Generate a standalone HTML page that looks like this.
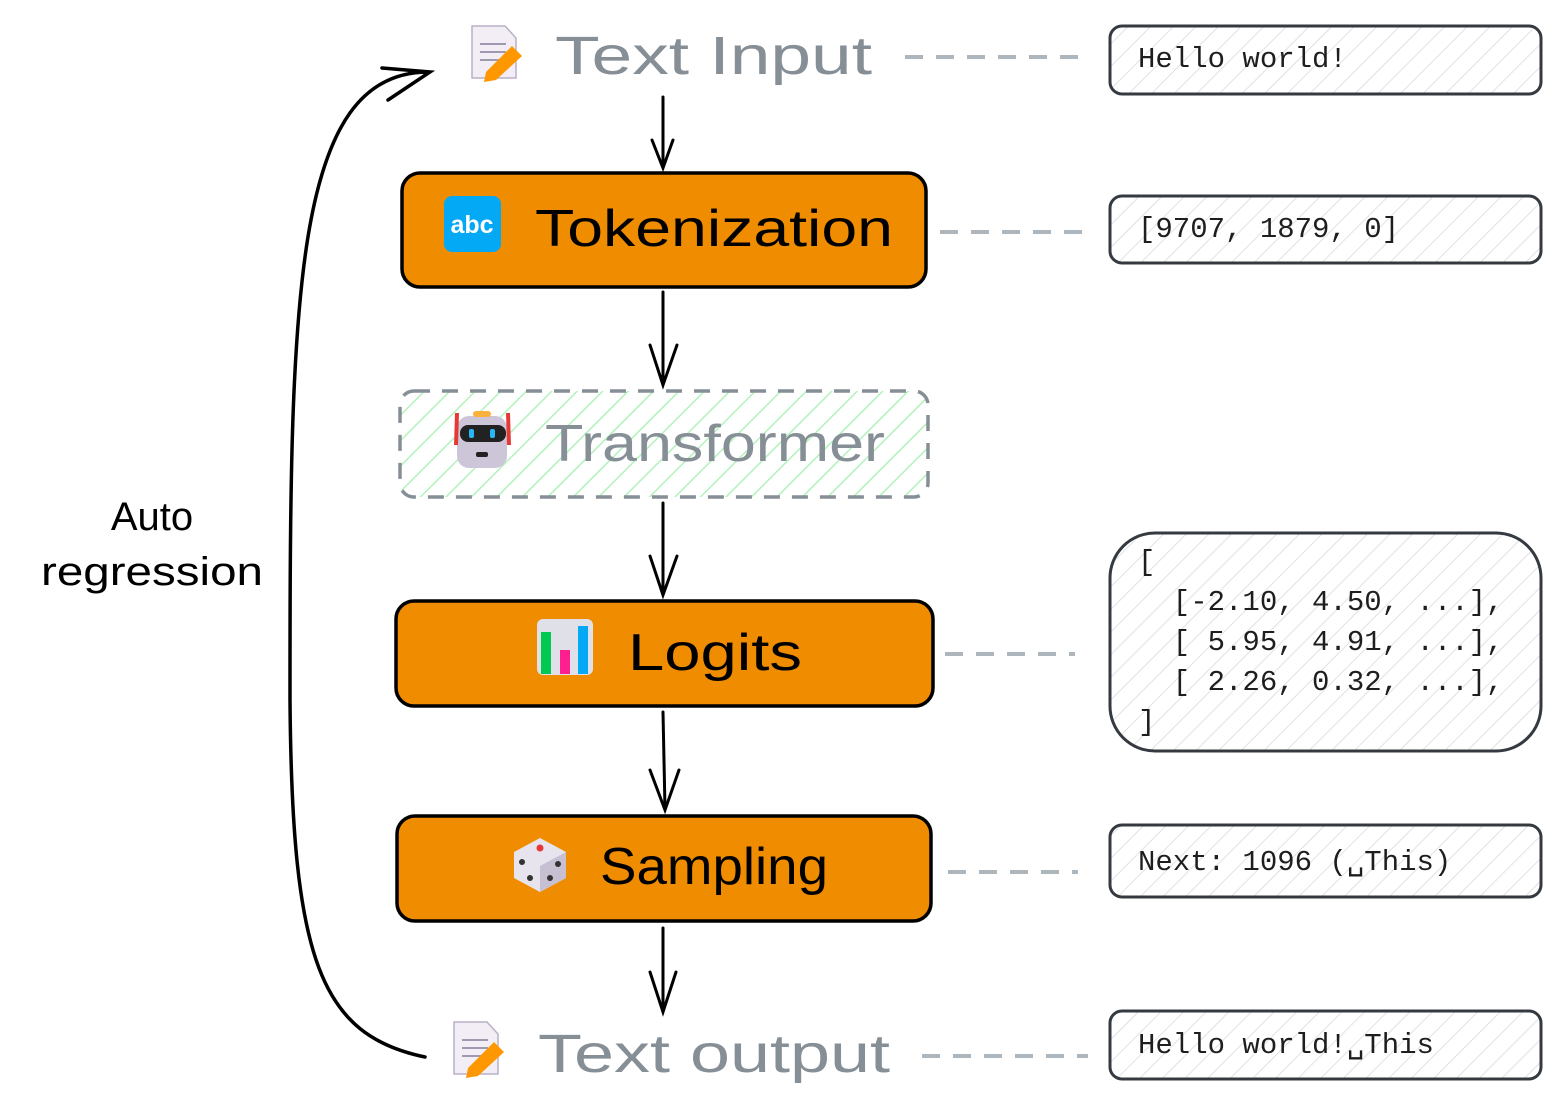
<!DOCTYPE html>
<html><head><meta charset="utf-8"><style>
html,body{margin:0;padding:0;background:#fff;}
svg{display:block}
.hand{font-family:"Liberation Sans","DejaVu Sans",sans-serif;}
.mono{font-family:"Liberation Mono","DejaVu Sans Mono",monospace;font-size:29px;fill:#1e1e1e;}
</style></head><body>
<svg width="1561" height="1109" viewBox="0 0 1561 1109" xmlns="http://www.w3.org/2000/svg">
<defs>
<pattern id="hg" patternUnits="userSpaceOnUse" width="16" height="16" patternTransform="rotate(45)">
<line x1="0" y1="0" x2="0" y2="16" stroke="#d8d8d8" stroke-width="1.5"/></pattern>
<pattern id="hgr" patternUnits="userSpaceOnUse" width="18" height="18" patternTransform="rotate(45)">
<line x1="0" y1="0" x2="0" y2="18" stroke="#b2f2bb" stroke-width="3"/></pattern>
</defs>
<g fill="none" stroke="#000" stroke-width="3" stroke-linecap="round">
<path d="M663 97 L663 166 M652 140 L663 168 L673 140"/>
<path d="M663 292 L663 384 M650 345 L663 385 L677 345"/>
<path d="M663 503 L663 594 M650 556 L663 595 L677 556"/>
<path d="M663 712 L665 809 M650 770 L665 810 L679 770"/>
<path d="M663 928 L663 1011 M650 972 L663 1012 L676 972"/>
<path d="M425 1057 C320 1035 292 960 290 700 C290 300 292 70 430 72 M388 100 L430 72 L382 68" stroke-width="3.5"/>
</g>
<g stroke="#adb5bd" stroke-width="4" stroke-dasharray="18 13">
<line x1="905" y1="57" x2="1090" y2="57"/>
<line x1="940" y1="232" x2="1092" y2="232"/>
<line x1="945" y1="654" x2="1075" y2="654"/>
<line x1="948" y1="872" x2="1078" y2="872"/>
<line x1="922" y1="1056" x2="1088" y2="1056"/>
</g>
<g stroke="#343a40" stroke-width="3" fill="url(#hg)">
<rect x="1110" y="26" width="431" height="68" rx="12"/>
<rect x="1110" y="196" width="431" height="67" rx="12"/>
<rect x="1110" y="533" width="431" height="218" rx="45"/>
<rect x="1110" y="825" width="431" height="72" rx="12"/>
<rect x="1110" y="1011" width="431" height="68" rx="12"/>
</g>
<text class="mono" x="1138" y="67">Hello world!</text>
<text class="mono" x="1138" y="237">[9707, 1879, 0]</text>
<text class="mono" x="1138" y="570">[</text>
<text class="mono" x="1138" y="610" xml:space="preserve">  [-2.10, 4.50, ...],</text>
<text class="mono" x="1138" y="650" xml:space="preserve">  [ 5.95, 4.91, ...],</text>
<text class="mono" x="1138" y="690" xml:space="preserve">  [ 2.26, 0.32, ...],</text>
<text class="mono" x="1138" y="730">]</text>
<text class="mono" x="1138" y="870">Next: 1096 (␣This)</text>
<text class="mono" x="1138" y="1053">Hello world!␣This</text>
<g stroke="#000" stroke-width="3.5" fill="#f08c00">
<rect x="402" y="173" width="524" height="114" rx="18"/>
<rect x="396" y="601" width="537" height="105" rx="18"/>
<rect x="397" y="816" width="534" height="105" rx="18"/>
</g>
<rect x="400" y="391" width="528" height="106" rx="14" fill="url(#hgr)" stroke="#868e96" stroke-width="3.5" stroke-dasharray="16 12"/>
<rect x="444" y="196" width="57" height="56" rx="8" fill="#03a9f4"/>
<text x="472" y="233" text-anchor="middle" class="hand" font-size="25" font-weight="bold" fill="#fff">abc</text>
<g>
<rect x="457" y="416" width="50" height="52" rx="12" fill="#cdc6d9"/>
<rect x="460" y="425" width="46" height="17" rx="8" fill="#222"/>
<rect x="469" y="429" width="5" height="9" rx="2" fill="#29b6f6"/>
<rect x="490" y="429" width="5" height="9" rx="2" fill="#29b6f6"/>
<rect x="476" y="452" width="12" height="5" rx="2" fill="#222"/>
<rect x="473" y="411" width="18" height="6" rx="3" fill="#fbb13c"/>
<line x1="457" y1="413" x2="456" y2="445" stroke="#e53935" stroke-width="4"/>
<line x1="508" y1="413" x2="509" y2="445" stroke="#e53935" stroke-width="4"/>
</g>
<g>
<rect x="537" y="619" width="56" height="56" rx="6" fill="#e0e0e8"/>
<rect x="541" y="632" width="10" height="42" fill="#00c853"/>
<rect x="560" y="650" width="10" height="24" fill="#ff1f8e"/>
<rect x="578" y="626" width="10" height="48" fill="#03a9f4"/>
</g>
<g>
<path d="M514 852 L540 838 L566 852 L566 878 L540 892 L514 878 Z" fill="#e8e4ee"/>
<path d="M540 866 L566 852 L566 878 L540 892 Z" fill="#c7c0d3"/>
<circle cx="540" cy="848" r="3.5" fill="#e53935"/>
<circle cx="522" cy="862" r="3" fill="#333"/><circle cx="530" cy="878" r="3" fill="#333"/>
<circle cx="550" cy="878" r="3" fill="#333"/><circle cx="558" cy="864" r="3" fill="#333"/>
</g>
<g>
<path d="M472 26 L505 26 L516 38 L516 78 L472 78 Z" fill="#f3eef6" stroke="#b8b0c5" stroke-width="1.5"/>
<path d="M480 44 H506 M480 52 H506 M480 60 H500" stroke="#9e9ab0" stroke-width="2"/>
<path d="M486 72 L512 46 L522 56 L496 80 L484 82 Z" fill="#ff9800"/>
<path d="M454 1022 L487 1022 L498 1034 L498 1074 L454 1074 Z" fill="#f3eef6" stroke="#b8b0c5" stroke-width="1.5"/>
<path d="M462 1040 H488 M462 1048 H488 M462 1056 H482" stroke="#9e9ab0" stroke-width="2"/>
<path d="M468 1068 L494 1042 L504 1052 L478 1076 L466 1078 Z" fill="#ff9800"/>
</g>
<text class="hand" x="555" y="74" font-size="54" fill="#868e96" textLength="317" lengthAdjust="spacingAndGlyphs">Text Input</text>
<text class="hand" x="535" y="246" font-size="52" fill="#000" textLength="358" lengthAdjust="spacingAndGlyphs">Tokenization</text>
<text class="hand" x="545" y="461" font-size="52" fill="#868e96" textLength="340" lengthAdjust="spacingAndGlyphs">Transformer</text>
<text class="hand" x="628" y="670" font-size="52" fill="#000" textLength="174" lengthAdjust="spacingAndGlyphs">Logits</text>
<text class="hand" x="600" y="884" font-size="52" fill="#000" textLength="228" lengthAdjust="spacingAndGlyphs">Sampling</text>
<text class="hand" x="538" y="1072" font-size="54" fill="#868e96" textLength="352" lengthAdjust="spacingAndGlyphs">Text output</text>
<text class="hand" x="152" y="530" font-size="40" fill="#000" text-anchor="middle">Auto</text>
<text class="hand" x="152" y="585" font-size="40" fill="#000" text-anchor="middle" textLength="222" lengthAdjust="spacingAndGlyphs">regression</text>
</svg>
</body></html>
